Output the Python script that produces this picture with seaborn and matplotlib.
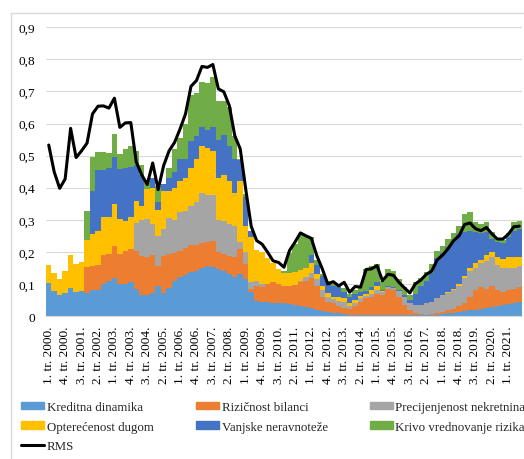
import numpy as np
import pandas as pd
import matplotlib
matplotlib.use("Agg")
import matplotlib.pyplot as plt
from matplotlib.patches import Patch, Rectangle
from matplotlib.lines import Line2D
import seaborn as sns

# quarters 1. tr. 2000. .. 3. tr. 2021.
quarters = [f"{q}. tr. {y}." for y in range(2000, 2022) for q in range(1, 5)][:87]

kreditna = [.102, .079, .064, .072, .087, .076, .079, .072, .080, .080,
            .100, .110, .120, .100, .100, .105, .084, .067, .067, .072,
            .095, .072, .087, .110, .121, .128, .136, .141, .150, .155,
            .152, .145, .141, .131, .121, .131, .114, .074, .048, .043,
            .043, .042, .040, .040, .036, .034, .030, .027, .025, .020,
            .015, .012, .010, .008, .006, .004, .003, .003, .003, .004,
            .004, .004, .004, .004, .003, .002, .002, .002, .002, .002,
            .003, .004, .006, .008, .010, .012, .015, .018, .020, .022,
            .025, .028, .030, .033, .036, .040, .045]
rizicnost = [0, 0, 0, 0, 0, 0, 0, .080, .077, .080,
             .090, .082, .097, .093, .104, .104, .120, .119, .116, .118,
             .060, .114, .106, .087, .083, .083, .084, .079, .078, .075,
             .083, .055, .052, .057, .062, .078, .048, .010, .045, .047,
             .057, .063, .060, .055, .056, .063, .075, .083, .093, .075,
             .045, .033, .030, .022, .019, .018, .027, .042, .052, .054,
             .066, .061, .081, .076, .057, .033, .016, .008, .004, .002,
             .002, .004, .006, .010, .012, .018, .025, .042, .060, .068,
             .060, .067, .050, .042, .044, .045, .045]
precijenjenost = [0, 0, 0, 0, 0, 0, 0, 0, 0, 0,
                  0, 0, 0, 0, 0, 0, .086, .114, .120, .097,
                  .095, .084, .112, .103, .121, .117, .122, .135, .155, .147,
                  .142, .100, .104, .099, .099, .021, .038, .021, .017, .010,
                  0, 0, 0, 0, 0, 0, .005, .012, .017, .020,
                  .020, .015, .012, .018, .020, .008, .010, .010, .007, .012,
                  .010, .010, .005, .008, .018, .023, .022, .025, .029, .036,
                  .040, .047, .053, .054, .058, .065, .080, .080, .070, .075,
                  .085, .090, .080, .075, .070, .065, .065]
opterecenost = [.057, .055, .051, .069, .103, .086, .090, .086, .099, .106,
                .120, .118, .133, .110, .093, .101, .070, .044, .092, .113,
                .080, .120, .085, .100, .095, .102, .118, .135, .147, .148,
                .138, .130, .143, .133, .103, .190, .080, .140, .095, .100,
                .080, .060, .045, .040, .043, .041, .032, .028, .030, .015,
                .015, .012, .008, .010, .010, .010, .010, .007, .008, .010,
                .015, .003, 0, 0, 0, 0, 0, 0, 0, 0,
                0, .001, .001, .003, .005, .005, .005, .010, .015, .010,
                .020, .015, .025, .028, .035, .035, .030]
vanjske = [0, 0, 0, 0, 0, 0, 0, 0, .135, .190,
           .146, .150, .145, .155, .163, .153, .110, .096, 0, .030,
           .025, .020, .040, .050, .070, .060, .085, .070, .060, .055,
           .075, .120, .125, .110, .105, .065, .090, .020, 0, 0,
           0, 0, 0, 0, 0, 0, 0, 0, .025, .030,
           .030, .033, .035, .032, .020, .020, .018, .013, .008, .010,
           .010, .004, .002, .002, .004, .007, .010, .035, .060, .070,
           .090, .124, .129, .140, .150, .155, .137, .115, .097, .085,
           .072, .040, .047, .050, .060, .080, .087]
krivo = [0, 0, 0, 0, 0, 0, 0, .090, .104, .056,
         .056, .048, .072, .047, .060, .067, .045, .030, .030, 0,
         .050, 0, .030, .070, .065, .110, .145, .135, .140, .145,
         .155, .120, .105, .120, .070, .005, .010, 0, 0, 0,
         0, 0, 0, .005, .060, .087, .113, .100, .055, .015,
         .005, .005, .005, .005, .013, .010, .014, .017, .068, .066,
         .057, .028, .053, .050, .033, .025, .015, .035, .025, .026,
         .027, .023, .024, .025, .025, .027, .056, .058, .030, .027,
         .030, .022, .008, .008, .015, .027, .025]
rms = [.533, .449, .398, .427, .585, .494, .515, .539, .630, .654,
       .655, .648, .679, .588, .602, .603, .480, .440, .410, .477,
       .394, .469, .515, .541, .583, .630, .716, .734, .778, .775,
       .784, .708, .699, .656, .562, .521, .396, .280, .235, .224,
       .199, .172, .167, .152, .204, .230, .259, .250, .242, .188,
       .147, .100, .107, .094, .105, .074, .092, .090, .145, .147,
       .157, .110, .130, .127, .105, .088, .072, .100, .112, .130,
       .140, .175, .190, .210, .235, .250, .285, .290, .272, .266,
       .276, .256, .240, .240, .255, .278, .280]

names = ["Kreditna dinamika", "Rizičnost bilanci", "Precijenjenost nekretnina",
         "Opterećenost dugom", "Vanjske neravnoteže", "Krivo vrednovanje rizika"]
colors = ["#5B9BD5", "#ED7D31", "#A5A5A5", "#FFC000", "#4472C4", "#70AD47"]

q = np.arange(len(quarters))
df = pd.DataFrame({"q": q})
for name, vals in zip(names, [kreditna, rizicnost, precijenjenost,
                              opterecenost, vanjske, krivo]):
    df[name] = vals
long = df.melt(id_vars="q", var_name="komponenta", value_name="v")

sns.set_theme(style="white")
plt.rcParams["font.family"] = ["Liberation Serif", "DejaVu Serif"]

W, H = 524, 460
fig = plt.figure(figsize=(W / 100, H / 100), dpi=100)
ax = fig.add_axes([46 / W, 1 - 317 / H, (522 - 46) / W, (317 - 28.3) / H])

# seaborn stacks the first hue level on top, so pass them reversed
sns.histplot(data=long, x="q", weights="v", hue="komponenta",
             hue_order=names[::-1], palette=dict(zip(names, colors)),
             multiple="stack", discrete=True, element="step", fill=True,
             alpha=1, linewidth=0, legend=False, ax=ax)
sns.lineplot(x=q, y=rms, color="black", linewidth=2.2, ax=ax)

ax.set_xlim(-0.5, len(q) - 0.5)
ax.set_ylim(0, 0.9)
yt = np.arange(0, 0.91, 0.1)
ax.set_yticks(yt)
ax.set_yticklabels(["0"] + [f"0,{i}" for i in range(1, 10)])
ax.yaxis.grid(True, color="#D9D9D9", linewidth=0.8)
ax.set_axisbelow(True)
ax.set_xticks(q[::3])
ax.set_xticklabels(quarters[::3], rotation=90)
ax.set_xticks(np.arange(-0.5, len(q), 1), minor=True)
ax.tick_params(axis="x", which="major", length=0, pad=7, labelsize=9.6, colors="black")
ax.tick_params(axis="x", which="minor", length=3, width=0.7, color="#BFBFBF")
ax.tick_params(axis="y", length=0, pad=8, labelsize=9.6, colors="black")
ax.set_xlabel("")
ax.set_ylabel("")
for s in ["top", "right", "left"]:
    ax.spines[s].set_visible(False)
ax.spines["bottom"].set_color("#D9D9D9")
ax.spines["bottom"].set_linewidth(0.8)

# legend, column-major order so rows read like the original
h = [Patch(color=c) for c in colors]
rms_h = Line2D([], [], color="black", linewidth=2.2)
handles = [h[0], h[3], rms_h, h[1], h[4], h[2], h[5]]
labels = [names[0], names[3], "RMS", names[1], names[4], names[2], names[5]]
fig.legend(handles, labels, ncol=3, loc="upper left",
           bbox_to_anchor=(21 / W, 1 - 402 / H), frameon=False, fontsize=9.3,
           handlelength=1.8, handleheight=0.55, handletextpad=0.2,
           columnspacing=3.25, labelspacing=0.6, borderpad=0, borderaxespad=0)

fig.add_artist(Rectangle((11 / W, -0.02), 1.0, 1 - 14 / H + 0.02,
                         transform=fig.transFigure, fill=False,
                         edgecolor="#D9D9D9", linewidth=1))

fig.savefig("out.png", dpi=100)
